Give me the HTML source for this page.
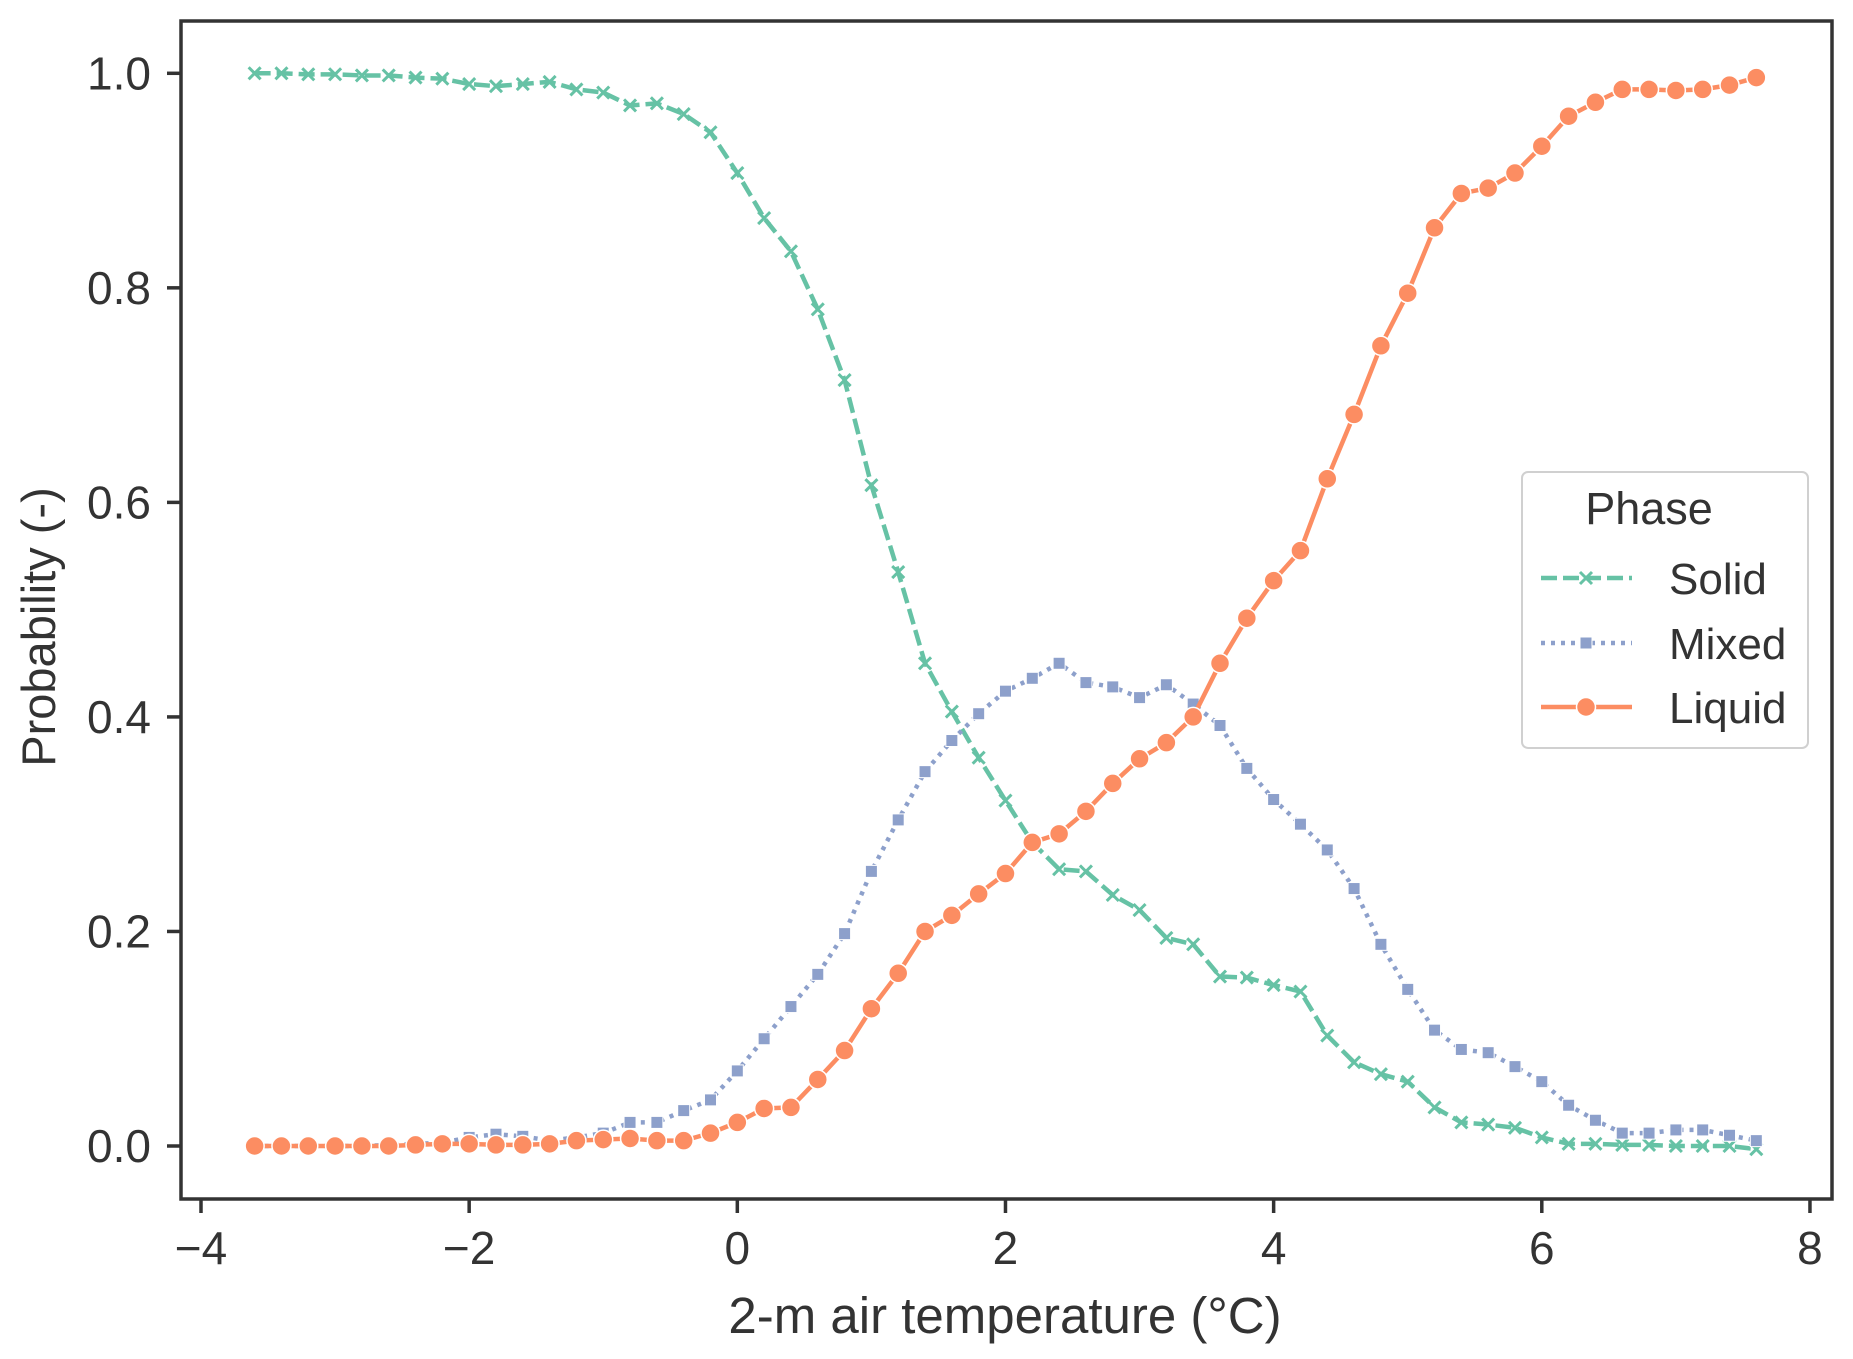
<!DOCTYPE html>
<html><head><meta charset="utf-8"><style>
html,body{margin:0;padding:0;background:#fff}
svg{display:block;font-family:"Liberation Sans",Arial,sans-serif}
</style></head><body>
<svg id="chart" width="1853" height="1359" viewBox="0 0 1853 1359">
<g id="plot"></g>
</svg>
<script>
const xs = [-3.6,-3.4,-3.2,-3.0,-2.8,-2.6,-2.4,-2.2,-2.0,-1.8,-1.6,-1.4,-1.2,-1.0,-0.8,-0.6,-0.4,-0.2,0,0.2,0.4,0.6,0.8,1.0,1.2,1.4,1.6,1.8,2.0,2.2,2.4,2.6,2.8,3.0,3.2,3.4,3.6,3.8,4.0,4.2,4.4,4.6,4.8,5.0,5.2,5.4,5.6,5.8,6.0,6.2,6.4,6.6,6.8,7.0,7.2,7.4,7.6];
const solid = [1.0,1.0,.999,.999,.998,.998,.996,.995,.99,.988,.99,.992,.985,.982,.97,.972,.962,.945,.907,.865,.834,.78,.714,.616,.535,.45,.405,.362,.322,.283,.258,.256,.234,.22,.194,.188,.158,.157,.15,.144,.103,.078,.067,.06,.036,.022,.02,.017,.008,.002,.002,.001,.001,0,0,0,-.003];
const mixed = [0,0,0,0,0,.001,.002,.003,.008,.011,.009,.005,.008,.012,.022,.022,.033,.043,.07,.1,.13,.16,.198,.256,.304,.349,.378,.403,.424,.436,.45,.432,.428,.418,.43,.412,.392,.352,.323,.3,.276,.24,.188,.146,.108,.09,.087,.074,.06,.038,.024,.012,.012,.015,.015,.01,.005];
const liquid = [0,0,0,0,0,0,.001,.002,.002,.001,.001,.002,.005,.006,.007,.005,.005,.012,.022,.035,.036,.062,.089,.128,.161,.2,.215,.235,.254,.283,.291,.312,.338,.361,.376,.4,.45,.492,.527,.555,.622,.682,.746,.795,.856,.888,.893,.907,.932,.96,.973,.985,.985,.984,.985,.989,.996];
const xTicks = [-4,-2,0,2,4,6,8];
const yTicks = [0.0,0.2,0.4,0.6,0.8,1.0];

const NS='http://www.w3.org/2000/svg';
const g=document.getElementById('plot');
const L=181,R=1832,T=21,B=1199;
const X=v=>201+(v+4)*134.08;
const Y=v=>1146-v*1072.7;
const ink='#333333';
function mk(tag,attrs,parent){const e=document.createElementNS(NS,tag);for(const k in attrs)e.setAttribute(k,attrs[k]);(parent||g).appendChild(e);return e;}

xTicks.forEach(t=>{
  const grp=mk('g',{});
  
  
  mk('line',{x1:X(t),x2:X(t),y1:B,y2:B+14,stroke:ink,'stroke-width':3.5},grp);
  const tx=mk('text',{x:X(t),y:B+65,'text-anchor':'middle','font-size':46,fill:ink},grp);
  tx.textContent=(t<0?'\u2212'+(-t):String(t));
});
yTicks.forEach(t=>{
  const grp=mk('g',{});
  
  
  mk('line',{x1:L-14,x2:L,y1:Y(t),y2:Y(t),stroke:ink,'stroke-width':3.5},grp);
  const tx=mk('text',{x:L-30,y:Y(t)+16,'text-anchor':'end','font-size':46,fill:ink},grp);
  tx.textContent=t.toFixed(1);
});

function series(vals,color,dash,marker,name){
  const grp=mk('g',{});
  
  
  const pts=xs.map((x,i)=>X(x)+','+Y(vals[i])).join(' ');
  mk('polyline',{points:pts,fill:'none',stroke:color,'stroke-width':4.5,'stroke-dasharray':dash,'stroke-linejoin':'round'},grp);
  xs.forEach((x,i)=>drawMarker(grp,marker,X(x),Y(vals[i]),color));
}
function drawMarker(grp,m,cx,cy,color){
  if(m==='o'){mk('circle',{cx:cx,cy:cy,r:9.5,fill:color,stroke:'#fff','stroke-width':1.5},grp);}
  else if(m==='s'){mk('rect',{x:cx-6,y:cy-6,width:12,height:12,fill:color,stroke:'#fff','stroke-width':1},grp);}
  else{const d=6;mk('path',{d:`M${cx-d},${cy-d}L${cx+d},${cy+d}M${cx-d},${cy+d}L${cx+d},${cy-d}`,stroke:color,'stroke-width':3,fill:'none'},grp);}
}
series(solid,'#66c2a5','16,6','x','solid');
series(mixed,'#8da0cb','4,6','s','mixed');
series(liquid,'#fc8d62','none','o','liquid');

const fr=mk('rect',{x:L,y:T,width:R-L,height:B-T,fill:'none',stroke:ink,'stroke-width':3.5});



const xt=mk('text',{x:1005,y:1333,'text-anchor':'middle','font-size':51,fill:ink});
xt.textContent='2-m air temperature (\u00b0C)';


const yt=mk('text',{x:0,y:0,'text-anchor':'middle','font-size':47,fill:ink,transform:'translate(55,627) rotate(-90)'});
yt.textContent='Probability (-)';



const lg=mk('g',{});


mk('rect',{x:1522,y:472,width:286,height:276,rx:6,fill:'#fff','fill-opacity':0.85,stroke:'#d0d0d0','stroke-width':2},lg);
const lt=mk('text',{x:1649,y:524,'text-anchor':'middle','font-size':45,fill:ink},lg);
lt.textContent='Phase';


const entries=[['Solid','#66c2a5','16,6','x',578],['Mixed','#8da0cb','4,6','s',643],['Liquid','#fc8d62','none','o',707]];
entries.forEach(e=>{
  const eg=mk('g',{},lg);
  
  
  mk('line',{x1:1541,x2:1632,y1:e[4],y2:e[4],stroke:e[1],'stroke-width':4.5,'stroke-dasharray':e[2]},eg);
  drawMarker(eg,e[3],1586,e[4],e[1]);
  const t=mk('text',{x:1669,y:e[4]+16,'font-size':44,fill:ink},eg);
  t.textContent=e[0];
});
</script>
</body></html>
